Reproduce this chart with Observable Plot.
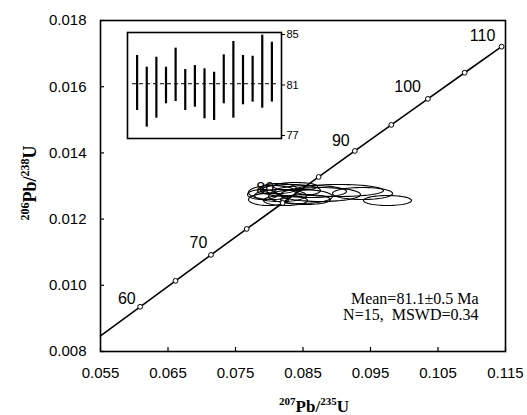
<!DOCTYPE html>
<html><head><meta charset="utf-8">
<script src="https://cdn.jsdelivr.net/npm/d3@7"></script>
<script src="https://cdn.jsdelivr.net/npm/@observablehq/plot@0.6"></script>
<style>
body{margin:0;background:#fff;}
#wrap{position:relative;width:527px;height:415px;overflow:hidden;}
</style></head><body><div id="wrap"></div>
<script>
// axis ticks
const xTicks = [0.055, 0.065, 0.075, 0.085, 0.095, 0.105, 0.115];
const yTicks = [0.008, 0.010, 0.012, 0.014, 0.016, 0.018];
// concordia curve (207Pb/235U, 206Pb/238U)
const concAge = [54.4, 60, 65, 70, 75, 80, 85, 90, 95, 100, 105, 110];
const concX = [0.05500, 0.06087, 0.06611, 0.07137, 0.07666, 0.08198, 0.08732, 0.09268, 0.09808, 0.10350, 0.10895, 0.11442];
const concY = [0.008469, 0.009351, 0.010134, 0.010918, 0.011702, 0.012487, 0.013273, 0.014059, 0.014846, 0.015633, 0.016422, 0.017210];
// age labels on concordia
const labelAge = [60, 70, 80, 90, 100, 110];
const labelX = [0.0589, 0.0695, 0.0794, 0.0906, 0.1005, 0.1116];
const labelY = [0.0096, 0.01129, 0.01292, 0.01437, 0.01598, 0.01755];
// error ellipses: centres and half-axes
const ellX  = [0.08048, 0.08167, 0.07989, 0.08315, 0.08463, 0.08241, 0.07900, 0.08611, 0.08759, 0.08389, 0.09026, 0.08537, 0.09382, 0.09752, 0.08137];
const ellY  = [0.012804, 0.012713, 0.012592, 0.012864, 0.012683, 0.012562, 0.012743, 0.012834, 0.012743, 0.012985, 0.012864, 0.012592, 0.012774, 0.012562, 0.012925];
const ellRx = [0.00356, 0.00385, 0.00296, 0.00445, 0.00474, 0.00326, 0.00222, 0.00533, 0.00593, 0.00326, 0.00667, 0.00370, 0.00445, 0.00356, 0.00267];
const ellRy = [0.000211, 0.000181, 0.000181, 0.000181, 0.000211, 0.000151, 0.000151, 0.000181, 0.000211, 0.000121, 0.000181, 0.000151, 0.000181, 0.000151, 0.000151];
// inset weighted-mean ages (Ma)
const insetIdx = [1,2,3,4,5,6,7,8,9,10,11,12,13,14,15];
const insetLo = [78.98, 77.66, 78.37, 79.51, 79.69, 78.98, 79.24, 78.32, 78.19, 79.51, 78.37, 79.43, 79.64, 79.16, 79.65];
const insetHi = [83.34, 82.41, 83.20, 82.41, 83.92, 82.23, 82.54, 82.28, 82.01, 83.39, 84.45, 83.34, 83.28, 84.95, 84.39];
const insetMean = 81.1;
const insetTicks = [77, 81, 85];
const statLines = ["Mean=81.1\u00B10.5 Ma", "N=15,  MSWD=0.34"];

const ellPts = [];
ellX.forEach((cx, i) => {
  for (let k = 0; k < 60; k++) {
    const a = 2 * Math.PI * k / 60;
    ellPts.push({id: i, x: cx + ellRx[i] * Math.cos(a), y: ellY[i] + ellRy[i] * Math.sin(a)});
  }
});
const conc = concAge.map((t, i) => ({t, x: concX[i], y: concY[i]}));
const marks5 = conc.filter(d => d.t >= 60);

const main = Plot.plot({
  width: 527, height: 415,
  marginLeft: 100, marginRight: 22, marginTop: 20, marginBottom: 64,
  style: {fontFamily: "'Liberation Sans', Arial, sans-serif", fontSize: "15px", background: "white", color: "black", overflow: "visible"},
  x: {domain: [0.055, 0.115]},
  y: {domain: [0.008, 0.018]},
  marks: [
    Plot.axisX(xTicks, {tickSize: -4, tickPadding: 20, tickFormat: d => d.toFixed(3), label: null, fontSize: 15, strokeWidth: 1.2}),
    Plot.axisY(yTicks, {tickSize: -4, tickPadding: 18, tickFormat: d => d.toFixed(3), label: null, fontSize: 15, strokeWidth: 1.2}),
    Plot.line(ellPts, {x: "x", y: "y", z: "id", curve: "linear-closed", stroke: "black", strokeWidth: 1.1}),
    Plot.line(conc, {x: "x", y: "y", stroke: "black", strokeWidth: 1.6}),
    Plot.dot(marks5, {x: "x", y: "y", r: 2.4, fill: "white", stroke: "black", strokeWidth: 1}),
    Plot.text(labelAge, {x: (d, i) => labelX[i], y: (d, i) => labelY[i], text: d => String(d), fontSize: 16}),
    Plot.text([statLines[0]], {frameAnchor: "bottom-right", dx: -27, dy: -48, textAnchor: "end", fontFamily: "'Liberation Serif', serif", fontSize: 16}),
    Plot.text([statLines[1]], {frameAnchor: "bottom-right", dx: -27, dy: -32, textAnchor: "end", fontFamily: "'Liberation Serif', serif", fontSize: 16}),
    Plot.frame({stroke: "black", strokeWidth: 1.6})
  ]
});
main.style.position = "absolute";
main.style.left = "0px";
main.style.top = "0px";
document.getElementById("wrap").appendChild(main);

const svg = d3.select(main);
// x title
const xt = svg.append("text").attr("x", 314).attr("y", 412).attr("text-anchor", "middle")
  .attr("font-family", "'Liberation Serif', serif").attr("font-weight", "bold").attr("font-size", 17).attr("fill", "black");
xt.append("tspan").attr("font-size", 11).attr("dy", -7).text("207");
xt.append("tspan").attr("dy", 7).text("Pb/");
xt.append("tspan").attr("font-size", 11).attr("dy", -7).text("235");
xt.append("tspan").attr("dy", 7).text("U");
// y title
const yt = svg.append("text").attr("transform", "translate(36,183) rotate(-90)").attr("text-anchor", "middle")
  .attr("font-family", "'Liberation Serif', serif").attr("font-weight", "bold").attr("font-size", 18).attr("fill", "black");
yt.append("tspan").attr("font-size", 12).attr("dy", -7).text("206");
yt.append("tspan").attr("dy", 7).text("Pb/");
yt.append("tspan").attr("font-size", 12).attr("dy", -7).text("238");
yt.append("tspan").attr("dy", 7).text("U");

const inset = Plot.plot({
  width: 180, height: 122,
  marginLeft: 0, marginRight: 26, marginTop: 8, marginBottom: 8,
  x: {domain: [0, 16], axis: null},
  y: {domain: [76.76, 85.16]},
  style: {background: "transparent", fontFamily: "'Liberation Sans', Arial, sans-serif", fontSize: "11px", color: "black", overflow: "visible"},
  marks: [
    Plot.axisY(insetTicks, {anchor: "right", tickSize: 3, tickPadding: 2, label: null, fontSize: 11}),
    Plot.ruleY([insetMean], {stroke: "black", strokeDasharray: "4,3", strokeWidth: 1, insetLeft: 5, insetRight: 3}),
    Plot.ruleX(insetIdx, {x: d => d, y1: (d, i) => insetLo[i], y2: (d, i) => insetHi[i], stroke: "black", strokeWidth: 2.2}),
    Plot.frame({stroke: "black", strokeWidth: 1.6})
  ]
});
inset.style.position = "absolute";
inset.style.left = "127px";
inset.style.top = "24px";
document.getElementById("wrap").appendChild(inset);
</script>
</body></html>
